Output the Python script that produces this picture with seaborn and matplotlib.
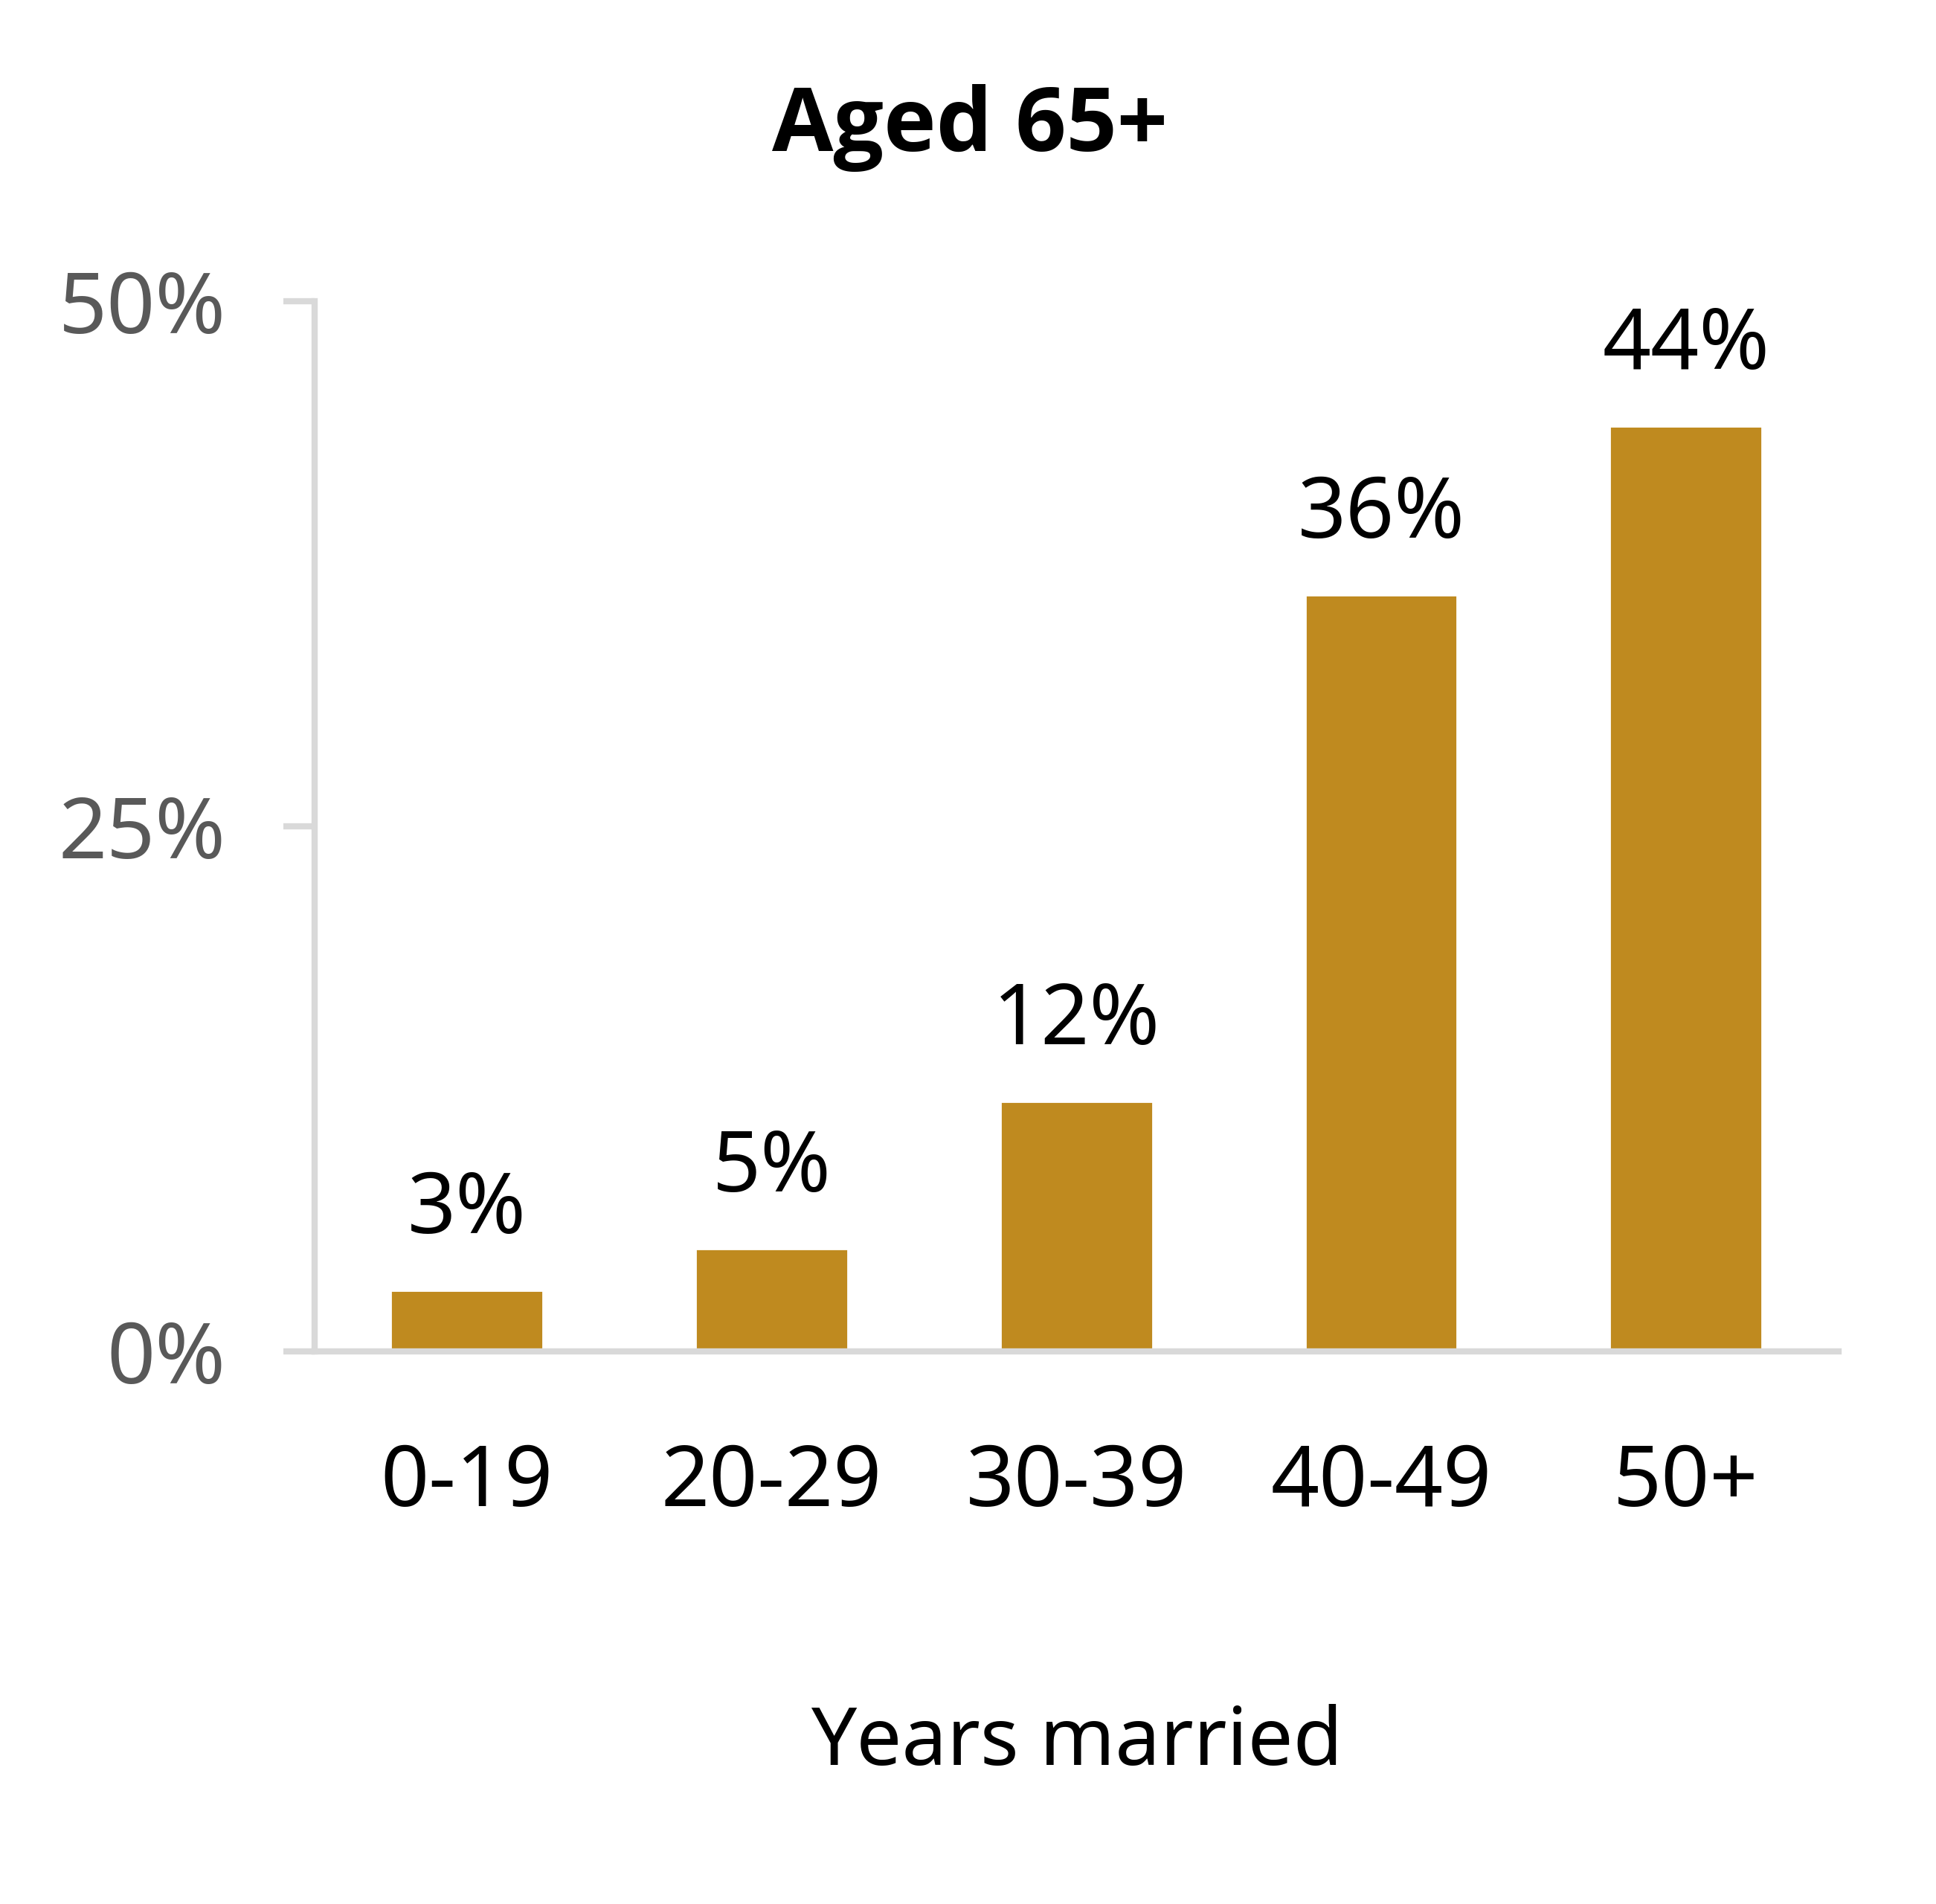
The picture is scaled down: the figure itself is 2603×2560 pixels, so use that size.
import matplotlib
matplotlib.use("Agg")
import matplotlib.pyplot as plt
import seaborn as sns
import pandas as pd

# data
categories = ["0-19", "20-29", "30-39", "40-49", "50+"]
shares = [2.9, 4.9, 11.9, 36.0, 44.05]
share_labels = ["3%", "5%", "12%", "36%", "44%"]
y_ticks = [0, 25, 50]
y_tick_labels = ["0%", "25%", "50%"]

BAR = "#BF8A1F"
AXIS = "#D9D9D9"

sns.set_theme(style="white")
plt.rcParams["font.family"] = ["Noto Sans", "DejaVu Sans"]

df = pd.DataFrame({"years": categories, "share": shares})

fig = plt.figure(figsize=(13.015, 12.8), dpi=200)
ax = fig.add_axes([0.1625, 0.2902, 0.9495 - 0.1625, 0.8418 - 0.2902])

sns.barplot(data=df, x="years", y="share", color=BAR, saturation=1,
            width=0.5, ax=ax)

ax.set_ylim(0, 50)
ax.set_xlim(-0.5, len(categories) - 0.5)
ax.bar_label(ax.containers[0], labels=share_labels, padding=18,
             fontsize=41, color="black")

ax.set_yticks(y_ticks)
ax.set_yticklabels(y_tick_labels)
ax.tick_params(axis="y", length=15, width=3, color=AXIS, pad=28,
               labelsize=41, labelcolor="#595959", left=True)
ax.tick_params(axis="x", length=0, pad=44, labelsize=41, labelcolor="black")

for side in ("top", "right"):
    ax.spines[side].set_visible(False)
for side in ("left", "bottom"):
    ax.spines[side].set_color(AXIS)
    ax.spines[side].set_linewidth(3)

ax.set_ylabel("")
ax.set_xlabel("Years married", fontsize=39, color="black", labelpad=86)

fig.text(0.501, 0.933, "Aged 65+", ha="center", va="center",
         fontsize=43, fontweight="bold", color="black",
         family=["Open Sans", "Lato", "DejaVu Sans"])

fig.savefig("out.png", dpi=200, facecolor="white")
